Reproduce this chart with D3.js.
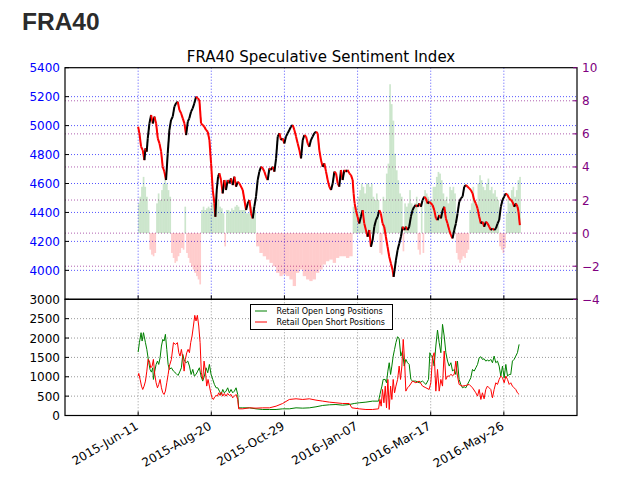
<!DOCTYPE html>
<html><head><meta charset="utf-8">
<script src="https://cdn.jsdelivr.net/npm/d3@7"></script>
<style>body{margin:0;background:#fff}svg{display:block}</style>
</head><body><svg id="c" width="624" height="486"></svg>
<script>
// ---- DATA (day = days after 2015-06-11) ----
const startDate = "2015-06-11";
const xTickLabels = ["2015-Jun-11","2015-Aug-20","2015-Oct-29","2016-Jan-07","2016-Mar-17","2016-May-26"];
const priceTicks = [4000,4200,4400,4600,4800,5000,5200,5400];
const ssiTicks = [-4,-2,0,2,4,6,8,10];
const posTicks = [0,500,1000,1500,2000,2500,3000];
const price = [[0,4992],[1.2,4946],[2.8,4854],[4.4,4831],[6,4762],[7,4843],[8.2,4820],[9.2,4912],[10.8,5015],[12.4,5073],[14,5015],[15.6,5062],[17.2,5015],[18.8,4912],[20.4,4877],[22,4820],[23.5,4716],[25.1,4681],[26.7,4624],[28.3,4808],[29.9,4969],[31.5,5039],[33.1,5062],[34.7,5131],[36.3,5154],[37.9,5165],[39.5,5108],[41.1,5085],[42.7,5050],[44.3,5015],[45.9,4935],[47.5,5027],[49,5050],[50.6,5096],[52.2,5119],[53.8,5154],[55.4,5200],[57,5188],[58.6,5177],[60.2,5015],[61.8,5004],[63.4,4992],[65,4969],[66.6,4958],[68.2,4900],[69.8,4739],[71.4,4555],[73,4463],[73.9,4370],[75.2,4555],[76.5,4647],[77.7,4670],[79.3,4624],[80.9,4532],[82.5,4624],[84.1,4555],[85.7,4624],[87.3,4601],[88.9,4635],[90.5,4589],[92.1,4647],[93.7,4578],[95.3,4612],[96.9,4601],[100.1,4555],[101.7,4486],[103.3,4417],[104.9,4463],[106.5,4486],[108.1,4394],[109.7,4359],[111.2,4440],[112.8,4509],[114.4,4624],[116,4682],[117.6,4716],[119.2,4705],[120.8,4682],[122.4,4647],[124,4624],[125.6,4705],[127.2,4693],[128.8,4716],[130.4,4682],[132,4774],[133.6,4924],[135.2,4947],[136.7,4900],[138.3,4912],[139.9,4877],[141.5,4924],[143.1,4947],[144.7,4970],[146.3,4993],[147.9,5004],[149.5,4970],[151.1,4924],[152.7,4877],[154.3,4831],[155.9,4774],[157.5,4900],[159.1,4935],[160.7,4924],[162.3,4877],[163.8,4854],[165.4,4900],[167,4924],[168.6,4947],[170.2,4958],[171.8,4947],[173.4,4831],[175,4762],[176.6,4716],[178.2,4739],[179.8,4682],[181.4,4624],[183,4578],[184.6,4555],[186.2,4601],[187.8,4682],[189.4,4670],[191,4601],[192.5,4578],[194.1,4693],[195.7,4624],[197.3,4693],[198.9,4681],[200.5,4693],[202.1,4670],[203.7,4658],[205.3,4624],[206.2,4531],[207.2,4462],[208.4,4416],[210,4370],[211.6,4324],[213.2,4370],[214.8,4416],[216.4,4324],[218,4278],[219.6,4232],[221.2,4278],[222.8,4163],[224.4,4209],[226,4301],[227.6,4347],[229.2,4370],[230.8,4416],[232.3,4393],[233.9,4324],[235.5,4301],[237.1,4232],[238.7,4163],[240.3,4094],[241.9,4048],[243.5,4002],[244.5,3955],[245.4,4002],[246.7,4071],[248.3,4140],[249.9,4186],[251.5,4232],[253.1,4301],[254.7,4278],[256.3,4301],[257.9,4278],[259.4,4301],[261,4370],[262.6,4416],[264.2,4439],[265.8,4451],[267.4,4439],[269,4462],[270.6,4439],[272.2,4485],[273.8,4508],[275.4,4497],[277,4462],[278.6,4474],[281.8,4451],[283.4,4416],[285,4359],[286.6,4347],[288.2,4382],[289.8,4359],[291.4,4416],[293,4439],[294.5,4359],[296.1,4324],[297.7,4278],[299.3,4244],[300.9,4221],[302.5,4278],[304.1,4324],[305.7,4393],[307.3,4474],[308.9,4497],[310.5,4509],[312.1,4578],[313.7,4589],[315.3,4578],[316.9,4566],[318.4,4555],[320,4532],[321.6,4486],[323.2,4462],[324.8,4428],[326.4,4370],[328,4324],[329.6,4336],[331.2,4301],[332.8,4336],[334.4,4324],[336,4301],[337.6,4278],[339.2,4290],[340.8,4278],[342.4,4290],[344,4324],[345.5,4347],[347.1,4439],[348.7,4486],[350.3,4509],[351.9,4532],[353.5,4520],[355.1,4497],[356.7,4486],[358.3,4474],[359.9,4439],[361.5,4462],[363.1,4439],[364,4405],[365.3,4313]];
const ssi = [[0,1.8],[1.2,2.2],[2.8,2.8],[4.4,3.4],[6,2.8],[7.6,2.2],[9.2,1.4],[10.8,-1.0],[12.4,-1.3],[14,-1.4],[15.6,-1.2],[17.2,1.8],[18.8,2.4],[20.4,2.0],[22,2.6],[23.5,3.0],[25.1,3.4],[26.7,3.0],[28.3,2.6],[29.9,2.2],[31.5,-1.2],[33.1,-1.5],[34.7,-1.8],[36.3,-1.7],[37.9,-1.4],[39.5,-1.2],[41.1,-0.9],[42.7,-1.0],[44.3,1.6],[45.9,-1.2],[47.5,-1.5],[49,-1.8],[50.6,-2.0],[52.2,-2.2],[53.8,-2.4],[55.4,-2.6],[57,-2.8],[58.6,-3.1],[60.2,1.4],[61.8,1.6],[63.4,1.4],[65,1.5],[66.6,1.6],[68.2,1.5],[69.8,1.8],[71.4,2.0],[73,2.0],[74.6,1.8],[76.1,2.0],[77.7,1.6],[79.3,1.5],[80.9,1.2],[82.5,-0.8],[84.1,1.4],[85.7,1.4],[87.3,1.3],[88.9,1.5],[90.5,1.4],[92.1,1.6],[93.7,1.7],[95.3,1.6],[96.9,1.4],[100.1,1.4],[103.3,1.2],[106.5,1.6],[109.7,1.4],[112.8,-0.8],[116,-1.2],[119.2,-1.4],[122.4,-1.6],[125.6,-1.8],[128.8,-2.0],[132,-2.4],[135.2,-2.6],[138.3,-2.5],[141.5,-2.6],[144.7,-2.8],[147.9,-3.2],[151.1,-2.4],[154.3,-2.2],[157.5,-2.6],[160.7,-2.8],[163.8,-2.9],[167,-2.8],[170.2,-2.4],[173.4,-2.2],[176.6,-1.9],[179.8,-1.7],[183,-1.6],[186.2,-1.8],[189.4,-1.5],[192.5,-1.4],[195.7,-1.4],[198.9,-1.5],[202.1,-1.4],[205.3,1.6],[208.5,1.6],[210,2.2],[211.6,2.6],[213.2,3.0],[214.8,2.8],[216.4,2.4],[218,3.0],[219.6,3.0],[221.2,2.8],[222.8,3.0],[224.4,2.2],[226,2.0],[227.6,2.4],[229.2,2.0],[230.8,-1.2],[232.3,-1.3],[233.9,2.2],[235.5,2.0],[237.1,3.6],[238.7,4.2],[240.3,9.0],[241.9,7.8],[243.5,6.8],[245.1,4.8],[246.7,3.8],[248.3,3.2],[249.9,2.4],[251.5,2.2],[253.1,-1.1],[254.7,1.8],[256.3,1.6],[257.9,1.8],[259.4,2.6],[261,1.8],[262.6,1.6],[264.2,1.8],[265.8,2.2],[267.4,-1.0],[269,-1.3],[270.6,1.8],[272.2,-1.2],[273.8,2.6],[275.4,2.4],[277,2.2],[278.6,2.0],[281.8,2.8],[285,3.4],[286.6,3.7],[288.2,3.6],[289.8,3.2],[291.4,2.4],[293,2.0],[294.5,2.2],[296.1,1.8],[297.7,2.8],[299.3,2.6],[300.9,2.8],[302.5,2.4],[304.1,-1.2],[305.7,-1.6],[307.3,-1.8],[308.9,-1.6],[310.5,-1.4],[312.1,-1.5],[313.7,-1.2],[315.3,-1.0],[316.9,1.4],[318.4,1.8],[320,2.8],[321.6,2.0],[323.2,1.6],[324.8,3.0],[326.4,3.5],[328,3.2],[329.6,2.8],[331.2,2.6],[332.8,3.0],[334.4,3.3],[336,2.6],[337.6,2.8],[339.2,2.4],[340.8,2.6],[342.4,2.2],[344,2.0],[345.5,-0.8],[347.1,-1.0],[348.7,-1.2],[350.3,-0.9],[351.9,1.2],[353.5,2.4],[355.1,1.8],[356.7,2.6],[358.3,2.8],[359.9,2.2],[361.5,2.6],[363.1,3.2],[364.7,3.4]];
const longPos = [[0,1638],[1.2,1880],[2.8,2138],[3.8,1922],[5.1,2138],[7,1880],[8.3,1707],[10.2,1362],[11.4,1190],[12.7,1120],[14,1232],[14.6,931],[15.9,1146],[17.2,1319],[18.5,1405],[19.7,1319],[21,1491],[22.3,1793],[23.6,1965],[24.8,1922],[26.1,2095],[27.4,1707],[28.7,1319],[29.9,1190],[31.8,1232],[33.8,1146],[36.3,1086],[38.2,1034],[40.1,1146],[41.4,1232],[42.7,1577],[44.3,1405],[45.9,1362],[47.5,1405],[49.1,1276],[50.7,1060],[52.3,1190],[53.8,1017],[55.4,1060],[57,1146],[58.6,1232],[60.2,1017],[61.8,888],[63.4,1017],[65,1232],[66.6,1103],[68.2,1319],[69.8,1060],[71.4,931],[73,802],[74.6,715],[76.2,715],[77.8,629],[79.4,543],[81,672],[82.5,586],[84.1,629],[85.7,715],[87.3,586],[88.9,672],[90.5,586],[92.1,629],[93.7,715],[95.3,543],[96.2,198],[100.1,198],[106.5,198],[112.8,172],[119.2,155],[125.6,155],[132,155],[138.3,172],[144.7,172],[151.1,198],[157.5,190],[163.8,198],[170.2,224],[176.6,259],[183,276],[189.3,284],[195.7,267],[202,284],[206.8,310],[211.6,328],[218,345],[224.3,371],[230.1,371],[231.4,543],[233.3,759],[234.5,931],[236.5,931],[237.7,845],[239,1146],[240.3,1362],[241.6,1060],[242.8,1276],[244.1,1534],[245.4,1707],[246.7,1880],[248.3,2034],[249.8,1983],[251.4,1534],[253,1664],[254.6,1276],[256.2,1448],[257.8,1362],[259.4,1319],[261,931],[262.6,888],[265.8,888],[269,845],[272.2,888],[275.4,802],[277.9,931],[279.2,1621],[280.5,1534],[281.7,1534],[283.3,1276],[284.9,1793],[286.5,2207],[288.1,1880],[289.7,1621],[291.3,2353],[292.9,2052],[294.5,1621],[296.1,1405],[297.7,1276],[299.3,1362],[300.9,1146],[302.5,1190],[304,1060],[305.6,1405],[307.2,931],[308.8,802],[310.4,715],[312,741],[313.6,715],[315.2,802],[316.8,888],[318.4,974],[320,1190],[321.6,1146],[323.2,1232],[324.8,1319],[326.4,1491],[328,1517],[329.5,1448],[331.1,1465],[332.7,1405],[334.3,1431],[335.9,1405],[337.5,1448],[339.1,1362],[340.7,1534],[342.3,1362],[343.9,1405],[345.5,1276],[347.1,1017],[348.7,1276],[350.3,974],[351.9,1319],[353.5,1017],[355.1,1060],[356.6,1060],[358.2,1405],[359.8,1448],[361.4,1534],[363,1621],[364.6,1836]];
const shortPos = [[0,1017],[0.6,1086],[1.9,931],[3.2,759],[4.4,672],[5.7,759],[7,888],[8.3,1146],[9.5,1448],[10.8,1405],[12.1,1232],[13.4,1276],[14.6,1448],[15.9,1060],[17.2,845],[18.5,715],[19.7,802],[21,931],[22.3,715],[23.6,586],[24.8,543],[26.1,629],[27.4,845],[28.7,1060],[29.9,1276],[31.8,1448],[33.8,1880],[35.7,1836],[37.6,1880],[38.9,1621],[40.1,1534],[41.4,1707],[42.7,1491],[44,1146],[45.2,1448],[46.5,1621],[47.8,1707],[49.1,1621],[50.3,1880],[51.6,2052],[52.9,2310],[54.2,2586],[55.4,2440],[56.7,2586],[58,2310],[59.3,1880],[60.5,1103],[61.8,931],[63.1,1405],[64.4,1146],[65.6,759],[66.9,931],[68.2,759],[69.5,586],[70.7,457],[72,414],[73.3,483],[74.6,517],[75.8,500],[77.1,586],[78.4,517],[79.7,603],[81,500],[82.5,569],[84.1,500],[85.7,569],[87.3,517],[88.9,543],[90.5,457],[92.1,500],[93.7,543],[95.3,414],[96.2,172],[100.1,172],[106.5,198],[112.8,190],[119.2,198],[125.6,198],[132,241],[138.3,310],[144.7,414],[151.1,431],[157.5,414],[163.8,431],[170.2,397],[176.6,371],[183,345],[189.3,328],[195.7,310],[202,310],[204.6,198],[211.6,172],[218,155],[224.3,155],[230.1,172],[231.4,414],[232.6,241],[233.9,672],[235.2,328],[236.5,759],[237.7,198],[239,931],[240.3,155],[241.6,759],[242.8,414],[244.1,931],[245.4,586],[246.7,759],[248.3,931],[249.8,1276],[251.1,931],[252.4,1276],[253.7,1965],[254.9,1448],[256.2,629],[257.8,715],[259.4,759],[262.6,888],[265.8,845],[269,888],[272.2,759],[275.4,715],[278.5,672],[280.1,845],[281.7,1491],[283.3,1621],[284.9,629],[286.5,1190],[288.1,629],[289.7,931],[291.3,759],[292.9,1664],[294.5,931],[296.1,1017],[297.7,1017],[299.3,1060],[300.9,1034],[302.5,1060],[304,1405],[305.6,1017],[307.2,802],[310.4,759],[313.6,776],[316.8,802],[320,715],[323.2,586],[324.8,500],[326.4,672],[328,414],[329.5,586],[331.1,431],[332.7,672],[334.3,759],[335.9,715],[337.5,672],[339.1,457],[340.7,672],[342.3,845],[343.9,802],[345.5,931],[347.1,1017],[348.7,974],[350.3,845],[351.9,1017],[353.5,931],[355.1,802],[356.6,845],[358.2,759],[359.8,715],[361.4,672],[363,586],[364.6,543]];

// ---- RENDER ----
const svg = d3.select("#c");
const F = "DejaVu Sans, sans-serif";
const t0 = d3.timeParse("%Y-%m-%d")(startDate);
const toDate = d => new Date(t0.getTime() + d * 864e5);
const parseTick = d3.timeParse("%Y-%b-%d");
const tickDates = xTickLabels.map(parseTick);
const L = 65, R = 577, T1 = 67.7, B1 = 299.3, B2 = 415.5;
const step = tickDates[1] - tickDates[0];
const x = d3.scaleTime().domain([new Date(+tickDates[0] - step), new Date(+tickDates[5] + step)]).range([L, R]);
const yP = d3.scaleLinear().domain([3800, 5400]).range([B1, T1]);
const yS = d3.scaleLinear().domain([-4, 10]).range([B1, T1]);
const yV = d3.scaleLinear().domain([0, 3000]).range([B2, B1]);

svg.append("text").attr("x", 22).attr("y", 29.5).attr("font-family", "Liberation Sans, Arial, sans-serif")
  .attr("font-weight", "bold").attr("font-size", 24.5).attr("fill", "#2b2b2b").text("FRA40");
svg.append("text").attr("x", (L + R) / 2).attr("y", 62).attr("text-anchor", "middle").attr("font-family", F)
  .attr("font-size", 15).attr("fill", "#000").text("FRA40 Speculative Sentiment Index");

// grids
const g = svg.append("g");
priceTicks.filter(v => v < 5400).forEach(v => g.append("line").attr("x1", L).attr("x2", R).attr("y1", yP(v)).attr("y2", yP(v))
  .attr("stroke", "#5555ff").attr("stroke-dasharray", "1,2"));
ssiTicks.filter(v => v > -4 && v < 10).forEach(v => g.append("line").attr("x1", L).attr("x2", R).attr("y1", yS(v)).attr("y2", yS(v))
  .attr("stroke", "#b060b0").attr("stroke-dasharray", "1,2"));
tickDates.forEach(d => {
  g.append("line").attr("x1", x(d)).attr("x2", x(d)).attr("y1", T1).attr("y2", B1).attr("stroke", "#5555ff").attr("stroke-dasharray", "1,2");
  g.append("line").attr("x1", x(d)).attr("x2", x(d)).attr("y1", B1).attr("y2", B2).attr("stroke", "#999").attr("stroke-dasharray", "1,2");
});
posTicks.filter(v => v > 0 && v < 3000).forEach(v => g.append("line").attr("x1", L).attr("x2", R).attr("y1", yV(v)).attr("y2", yV(v))
  .attr("stroke", "#999").attr("stroke-dasharray", "1,2"));

// SSI bars
const bars = svg.append("g");
ssi.forEach((p, i) => {
  const x0 = x(toDate(p[0]));
  const x1 = i < ssi.length - 1 ? x(toDate(ssi[i + 1][0])) : x(toDate(p[0] + 1.6));
  const v = p[1];
  bars.append("rect").attr("x", x0).attr("width", Math.max(0.8, x1 - x0))
    .attr("y", Math.min(yS(v), yS(0))).attr("height", Math.abs(yS(v) - yS(0)))
    .attr("fill", v >= 0 ? "#008000" : "#ff0000").attr("fill-opacity", 0.2);
});

// price
const pg = svg.append("g");
pg.append("path").datum(price).attr("fill", "none").attr("stroke", "#888").attr("stroke-width", 1)
  .attr("d", d3.line().x(d => x(toDate(d[0]))).y(d => yP(d[1])));
for (let i = 1; i < price.length; i++) {
  const a = price[i - 1], b = price[i];
  pg.append("line").attr("x1", x(toDate(a[0]))).attr("y1", yP(a[1])).attr("x2", x(toDate(b[0]))).attr("y2", yP(b[1]))
    .attr("stroke", b[1] >= a[1] ? "#000" : "#ff0000").attr("stroke-width", 2).attr("stroke-linecap", "butt");
}

// positions lines
const ln = d3.line().x(d => x(toDate(d[0]))).y(d => yV(d[1]));
svg.append("path").datum(longPos).attr("fill", "none").attr("stroke", "#008000").attr("stroke-width", 1).attr("d", ln);
svg.append("path").datum(shortPos).attr("fill", "none").attr("stroke", "#ff0000").attr("stroke-width", 1).attr("d", ln);

// frames
svg.append("rect").attr("x", L).attr("y", T1).attr("width", R - L).attr("height", B1 - T1).attr("fill", "none").attr("stroke", "#000").attr("stroke-width", 1.2);
svg.append("rect").attr("x", L).attr("y", B1).attr("width", R - L).attr("height", B2 - B1).attr("fill", "none").attr("stroke", "#000").attr("stroke-width", 1.2);

// left price axis
priceTicks.forEach(v => {
  svg.append("line").attr("x1", L).attr("x2", L + 4).attr("y1", yP(v)).attr("y2", yP(v)).attr("stroke", "#000");
  svg.append("text").attr("x", L - 5).attr("y", yP(v) + 4.5).attr("text-anchor", "end").attr("font-family", F)
    .attr("font-size", 12).attr("fill", "#0000ff").text(v);
});
// right ssi axis
ssiTicks.forEach(v => {
  svg.append("line").attr("x1", R - 4).attr("x2", R).attr("y1", yS(v)).attr("y2", yS(v)).attr("stroke", "#800080");
  svg.append("text").attr("x", R + 5).attr("y", yS(v) + 4.5).attr("font-family", F)
    .attr("font-size", 12).attr("fill", "#800080").text(v < 0 ? "\u2212" + Math.abs(v) : v);
});
// bottom left axis
posTicks.forEach(v => {
  svg.append("line").attr("x1", L).attr("x2", L + 4).attr("y1", yV(v)).attr("y2", yV(v)).attr("stroke", "#000");
  svg.append("text").attr("x", L - 5).attr("y", yV(v) + 4.5).attr("text-anchor", "end").attr("font-family", F)
    .attr("font-size", 12).attr("fill", "#000").text(v);
});
// x axis
tickDates.forEach((d, i) => {
  svg.append("line").attr("x1", x(d)).attr("x2", x(d)).attr("y1", B2).attr("y2", B2 - 4).attr("stroke", "#000");
  svg.append("line").attr("x1", x(d)).attr("x2", x(d)).attr("y1", B1).attr("y2", B1 - 4).attr("stroke", "#000");
  svg.append("text").attr("transform", `translate(${x(d) + 1},${B2 + 13}) rotate(-30)`).attr("text-anchor", "end")
    .attr("font-family", F).attr("font-size", 12).attr("fill", "#000").text(xTickLabels[i]);
});

// legend
const lg = svg.append("g");
lg.append("rect").attr("x", 250.5).attr("y", 304.5).attr("width", 142).attr("height", 25).attr("fill", "#fff").attr("stroke", "#000");
[["Retail Open Long Positions", "#008000", 311], ["Retail Open Short Positions", "#ff0000", 322]].forEach(e => {
  lg.append("line").attr("x1", 255).attr("x2", 267).attr("y1", e[2]).attr("y2", e[2]).attr("stroke", e[1]);
  lg.append("text").attr("x", 276.5).attr("y", e[2] + 3).attr("font-family", F).attr("font-size", 8).attr("fill", "#000").text(e[0]);
});
</script></body></html>
